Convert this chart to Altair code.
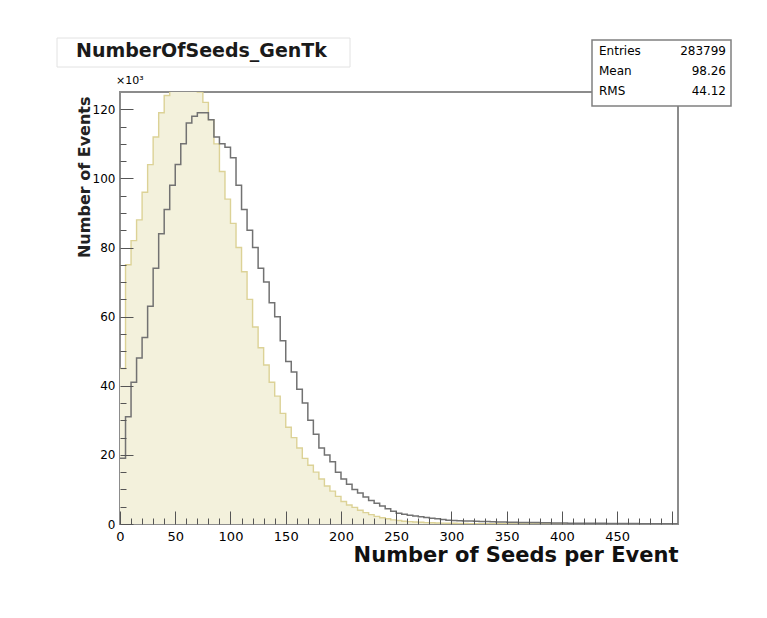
import altair as alt
import pandas as pd

# ---------------- data (thousands of events per 5-unit bin) ----------------
bin_width = 5
x_max = 505
y_max = 125

gray_k = [19, 31, 41, 48, 54, 63, 74, 84, 91, 98,
          104, 110, 116, 118, 119, 119, 117, 112, 110, 109,
          106, 98, 91, 85, 80, 74, 70, 64, 60, 53,
          47, 44, 39, 35, 30, 26, 22, 20, 18, 15,
          13, 11.5, 10, 9, 7.8, 6.8, 6, 5.2, 4.4, 3.7,
          3.1, 2.8, 2.5, 2.3, 2.1, 1.9, 1.7, 1.5, 1.3, 1.1,
          1.0, 0.95, 0.9, 0.85, 0.8, 0.75, 0.7, 0.65, 0.6, 0.55,
          0.5, 0.5, 0.45, 0.45, 0.4, 0.4, 0.35, 0.35, 0.3, 0.3,
          0.3, 0.25, 0.25, 0.25, 0.2, 0.2, 0.2, 0.2, 0.15, 0.15,
          0.15, 0.15, 0.12, 0.12, 0.1, 0.1, 0.1, 0.1, 0.08, 0.08,
          0.08]

yellow_k = [45, 75, 82, 88, 96, 104, 112, 119, 124, 128,
            130, 131, 130, 128, 125, 122, 117, 110, 102, 94,
            87, 80, 73, 65, 57, 51, 46, 41, 37, 32,
            28, 25, 22, 19, 17, 15, 13, 11, 9.5, 8,
            6.5, 5.5, 4.8, 4, 3.3, 2.7, 2.2, 1.8, 1.5, 1.2,
            1.0, 0.8, 0.7, 0.6, 0.5, 0.4, 0.35, 0.3, 0.25, 0.2,
            0.2, 0.15, 0.15, 0.12, 0.1, 0.1, 0.08, 0.08, 0.06, 0.06,
            0.05, 0.05, 0.05, 0.04, 0.04, 0.03, 0.03, 0.03, 0.02, 0.02,
            0.02, 0.02, 0.01, 0.01, 0.01, 0.01, 0.01, 0.01, 0.01, 0.01,
            0.01, 0.01, 0.01, 0.01, 0.01, 0.01, 0.01, 0.01, 0.01, 0.01,
            0.01]

x_major = list(range(0, 501, 50))
x_labels = list(range(0, 451, 50))
x_minor = [v for v in range(10, 501, 10) if v % 50]
y_major = list(range(0, 121, 20))
y_minor = [v for v in range(5, 125, 5) if v % 20]

title_text = "NumberOfSeeds_GenTk"
x_title = "Number of Seeds per Event"
y_title = "Number of Events"
stat_names = ["Entries", "Mean", "RMS"]
stat_values = ["283799", "98.26", "44.12"]

# ---------------- build table ----------------
edges = [i * bin_width for i in range(len(gray_k))]
df = pd.DataFrame({
    "x": edges + [x_max],
    "gray": gray_k + [gray_k[-1]],
    "yellow": yellow_k + [yellow_k[-1]],
})

W, H = 558, 432
FONT = "DejaVu Sans"
FRAME = "#8c8c8c"
TICK = "#555555"

xs = alt.Scale(domain=[0, x_max], nice=False, zero=False)
ys = alt.Scale(domain=[0, y_max], nice=False, zero=True)

base = alt.Chart(df)

ax_x_labels = alt.Axis(orient="bottom", values=x_labels, ticks=False, tickSize=0,
                       domain=False, grid=False, labelFont=FONT, labelFontSize=13,
                       labelColor="black", labelPadding=6, labelFlush=False,
                       title=x_title, titleFont=FONT, titleFontSize=21,
                       titleFontWeight="bold", titleColor="#111111",
                       titleX=W, titleY=31, titleAlign="right", titleBaseline="middle")
ax_y_labels = alt.Axis(orient="left", values=y_major, ticks=False, tickSize=0,
                       domain=False, grid=False, labelFont=FONT, labelFontSize=12,
                       labelColor="black", labelPadding=5, labelFlush=False,
                       title=y_title, titleFont=FONT, titleFontSize=16,
                       titleFontWeight="bold", titleColor="#222222",
                       titleX=-36, titleY=4, titleAngle=-90,
                       titleAlign="right", titleBaseline="middle")

ax_x_major = alt.Axis(orient="top", offset=-H, values=x_major, labels=False,
                      ticks=True, tickSize=13, tickColor=TICK, tickWidth=1,
                      domain=False, grid=False, title=None, zindex=2)
ax_y_major = alt.Axis(orient="right", offset=-W, values=y_major, labels=False,
                      ticks=True, tickSize=13, tickColor=TICK, tickWidth=1,
                      domain=False, grid=False, title=None, zindex=2)
ax_x_minor = alt.Axis(orient="top", offset=-H, values=x_minor, labels=False,
                      ticks=True, tickSize=6, tickColor=TICK, tickWidth=1,
                      domain=False, grid=False, title=None, zindex=2)
ax_y_minor = alt.Axis(orient="right", offset=-W, values=y_minor, labels=False,
                      ticks=True, tickSize=6, tickColor=TICK, tickWidth=1,
                      domain=False, grid=False, title=None, zindex=2)

fill_area = base.mark_area(interpolate="step-after", clip=True,
                           color="#f3f1dc", opacity=1).encode(
    x=alt.X("x:Q", scale=xs, axis=ax_x_labels),
    y=alt.Y("yellow:Q", scale=ys, axis=ax_y_labels),
)
fill_edge = base.mark_line(interpolate="step-after", clip=True,
                           color="#dcd296", strokeWidth=1.4).encode(
    x=alt.X("x:Q", scale=xs, axis=ax_x_major),
    y=alt.Y("yellow:Q", scale=ys, axis=ax_y_major),
)
gray_line = base.mark_line(interpolate="step-after", clip=True,
                           color="#727272", strokeWidth=1.5).encode(
    x=alt.X("x:Q", scale=xs, axis=ax_x_minor),
    y=alt.Y("gray:Q", scale=ys, axis=ax_y_minor),
)

# ---------------- annotations ----------------
one = pd.DataFrame({"t": [title_text]})
title_box = alt.Chart(one).mark_rect(fill="white", stroke="#e2e2e2", strokeWidth=1).encode(
    x=alt.value(-63), x2=alt.value(230), y=alt.value(-54), y2=alt.value(-25))
title_txt = alt.Chart(one).mark_text(align="left", baseline="middle", font=FONT,
                                     fontSize=19, fontWeight="bold", color="#1a1a1a").encode(
    x=alt.value(-44), y=alt.value(-41), text="t:N")

exp_txt = alt.Chart(pd.DataFrame({"t": ["\u00d710\u00b3"]})).mark_text(
    align="left", baseline="middle", font=FONT, fontSize=11, color="black").encode(
    x=alt.value(-4), y=alt.value(-11), text="t:N")

stat_box = alt.Chart(one).mark_rect(fill="white", stroke="#808080", strokeWidth=1.5).encode(
    x=alt.value(472), x2=alt.value(611), y=alt.value(-52), y2=alt.value(14))

stat_layers = []
for i, (n, v) in enumerate(zip(stat_names, stat_values)):
    yy = -41 + 20 * i
    d = pd.DataFrame({"n": [n], "v": [v]})
    stat_layers.append(alt.Chart(d).mark_text(align="left", baseline="middle", font=FONT,
                                              fontSize=12, color="black").encode(
        x=alt.value(479), y=alt.value(yy), text="n:N"))
    stat_layers.append(alt.Chart(d).mark_text(align="right", baseline="middle", font=FONT,
                                              fontSize=12, color="black").encode(
        x=alt.value(606), y=alt.value(yy), text="v:N"))

chart = alt.layer(
    fill_area, fill_edge, gray_line,
    title_box, title_txt, exp_txt, stat_box, *stat_layers
).resolve_axis(x="independent", y="independent").properties(
    width=W, height=H, autosize="none",
    padding={"left": 112, "top": 84, "right": 80, "bottom": 90},
    background="white",
).configure_view(stroke=FRAME, strokeWidth=2)

chart.save("out.html", embed_options={"renderer": "svg", "actions": False})
